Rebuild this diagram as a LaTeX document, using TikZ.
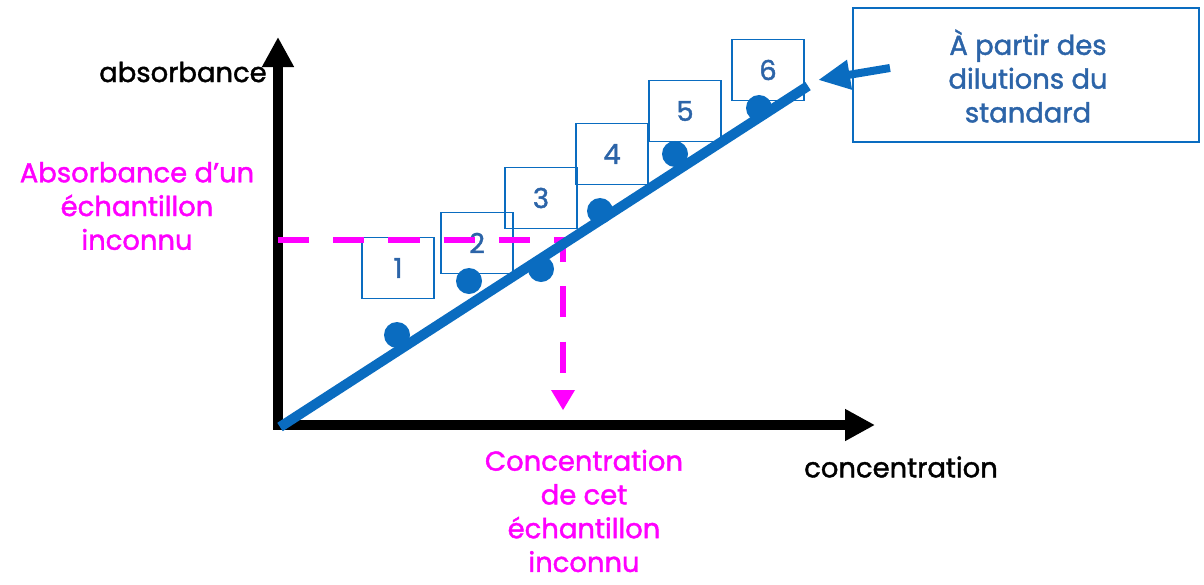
\documentclass[tikz,border=0pt]{standalone}
\usepackage{fontspec}
\setmainfont{Poppins}[FakeBold=1.5]
\usetikzlibrary{arrows.meta}
\definecolor{stdblue}{HTML}{0A6CC0}
\definecolor{numblue}{HTML}{2C64A8}
\definecolor{unkpink}{HTML}{FF00FF}

\begin{document}
\begin{tikzpicture}[x=0.025cm,y=-0.025cm,
  lbl/.style={font=\fontsize{19.5}{24}\selectfont,align=center,inner sep=0pt},
  dilbox/.style={draw=stdblue,line width=1.2pt,minimum width=1.8cm,minimum height=1.52cm,text=numblue,font=\fontsize{19.5}{22}\selectfont},
  pt/.style={circle,fill=stdblue,inner sep=0pt,minimum size=0.65cm},
  axis/.style={line width=0.23cm,line cap=rect,-{Triangle[length=0.75cm,width=0.75cm]}},
  unk/.style={unkpink,line width=0.15cm,dash pattern=on 0.78cm off 0.6cm}]

\useasboundingbox (0,0) rectangle (1204,585);

\coordinate (O) at (278,425);
\coordinate (ytip) at (278,37);
\coordinate (xtip) at (875,425);
\draw[axis] (O) -- (ytip);
\draw[axis] (O) -- (xtip);

\node[dilbox] (b1) at (398,268) {1};
\node[dilbox] (b2) at (477,243) {2};
\node[dilbox] (b3) at (541,198) {3};
\node[dilbox] (b4) at (612,154) {4};
\node[dilbox] (b5) at (685,111) {5};
\node[dilbox] (b6) at (768,70) {6};

\coordinate (ya) at (278,240);
\coordinate (hit) at (563,240);
\coordinate (xa) at (563,410);
\draw[unk] (ya) -- (hit) -- ([yshift=20]xa);
\fill[unkpink] (xa) -- ++(-12,-20) -- ++(24,0) -- cycle;

\coordinate (L0) at (280,427);
\coordinate (L1) at (808,86);
\draw[stdblue,line width=0.25cm] (L0) -- (L1);

\node[pt] (d1) at (397,335) {};
\node[pt] (d2) at (469,281) {};
\node[pt] (d3) at (541,269) {};
\node[pt] (d4) at (600,211) {};
\node[pt] (d5) at (675,154) {};
\node[pt] (d6) at (759,108) {};

\node[draw=stdblue,line width=1.5pt,minimum width=8.65cm,minimum height=3.35cm] (sbox) at (1026,75) {};
\node[lbl,text=numblue] (stxt) at (1028,76) {À partir des\\dilutions du\\standard};
\coordinate (atail) at (890,68);
\coordinate (ahead) at (818,80);
\draw[stdblue,line width=0.2cm,-{Triangle[length=0.8cm,width=0.7cm]}] (atail) -- (ahead);

\node[lbl] (yl) at (183,72) {absorbance};
\node[lbl] (xl) at (901,467) {concentration};
\node[lbl,unkpink] (ua) at (137,206) {Absorbance d’un\\échantillon\\inconnu};
\node[lbl,unkpink] (uc) at (584,511) {Concentration\\de cet\\échantillon\\inconnu};

\end{tikzpicture}
\end{document}
